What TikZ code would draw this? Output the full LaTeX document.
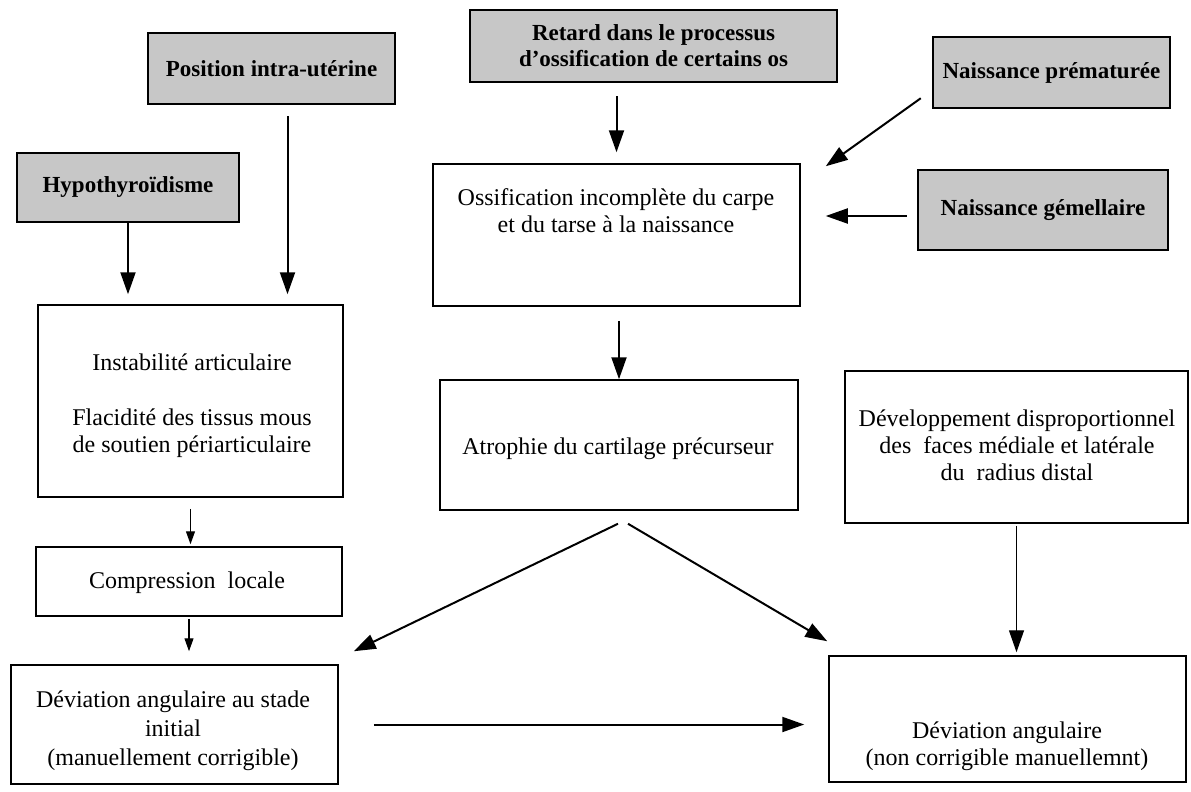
\documentclass[tikz,border=0pt]{standalone}
\usepackage{fontspec}
\setmainfont{Liberation Serif}
\usetikzlibrary{arrows.meta,calc}
\begin{document}
\begin{tikzpicture}[x=1pt,y=-1pt,
  graybox/.style={draw=black, line width=2.5pt, fill=black!22, inner sep=0pt, font=\fontsize{23}{26}\selectfont\bfseries, align=center},
  whitebox/.style={draw=black, line width=1.5pt, inner sep=0pt},
  txt/.style={font=\fontsize{24}{27}\selectfont, align=center, inner sep=0pt},
  arr/.style={line width=2pt, -{Triangle[length=22pt,width=15pt]}},
  thinarr/.style={line width=1.2pt, -{Triangle[length=13pt,width=9pt]}},
]
\useasboundingbox (0,0) rectangle (1191,792);
% gray source boxes
\node[graybox, minimum width=247pt, minimum height=71pt] (pos) at (271.5,68.5) {Position intra-utérine};
\node[graybox, minimum width=367pt, minimum height=72pt] (ret) at (653.5,46) {Retard dans le processus\\d'ossification de certains os};
\node[graybox, minimum width=237pt, minimum height=71pt] (prem) at (1051.5,72.5) {Naissance prématurée};
\node[graybox, minimum width=250pt, minimum height=80pt] (gem) at (1043,210) {Naissance gémellaire};
\node[graybox, minimum width=222pt, minimum height=69pt] (hypo) at (128,187.5) {Hypothyroïdisme};
% white boxes
\node[whitebox, minimum width=367pt, minimum height=142pt] (oss) at (616.5,235) {};
\node[txt] (osst) at (616,211) {Ossification incomplète du carpe\\et du tarse à la naissance};
\node[whitebox, minimum width=305pt, minimum height=192pt] (inst) at (190.5,401) {};
\node[txt] (inst1) at (192,362) {Instabilité articulaire};
\node[txt] (inst2) at (192,433) {Flacidité des tissus mous\\de soutien périarticulaire};
\node[whitebox, minimum width=358pt, minimum height=130pt] (atr) at (619,445) {};
\node[txt] (atrt) at (618,449) {Atrophie du cartilage précurseur};
\node[whitebox, minimum width=343pt, minimum height=152pt] (dev) at (1016.5,447) {};
\node[txt] (devt) at (1017,445) {Développement disproportionnel\\des\ \ faces médiale et latérale\\du\ \ radius distal};
\node[whitebox, minimum width=306pt, minimum height=69pt] (comp) at (189,581.5) {};
\node[txt] (compt) at (187,583) {Compression\ \ locale};
\node[whitebox, minimum width=327pt, minimum height=119pt] (devi) at (174.5,724.5) {};
\node[txt, font=\fontsize{24}{29}\selectfont] (devit) at (173,731) {Déviation angulaire au stade\\initial\\(manuellement corrigible)};
\node[whitebox, minimum width=357pt, minimum height=126pt] (devn) at (1007.5,719) {};
\node[txt] (devnt) at (1007,746) {Déviation angulaire\\(non corrigible manuellemnt)};
% connectors
\draw[arr, shorten >=10pt] (hypo.south) -- (hypo.south |- inst.north);
\draw[arr, shorten <=11pt, shorten >=10pt] ([xshift=16pt]pos.south) -- ([xshift=16pt]pos.south |- inst.north);
\draw[arr, shorten <=13pt, shorten >=11pt] (ret.south -| oss.north) -- (oss.north);
\draw[arr, shorten <=14pt] (oss.south -| atr.north) -- (atr.north);
\draw[arr] ($(prem.south west)+(-11,-11)$) -- ($(oss.north east)+(25,3)$);
\draw[arr, shorten <=10pt, shorten >=25pt] ([yshift=-6pt]gem.west) -- ([yshift=-6pt]gem.west -| oss.east);
\draw[thinarr, shorten <=11pt, shorten >=2pt] (inst.south) -- (inst.south |- comp.north);
\draw[thinarr, shorten <=2pt, shorten >=13pt] (comp.south) -- (comp.south |- devi.north);
\draw[arr] ($(atr.south)+(-1,13)$) -- ($(devi.north east)+(15,-13)$);
\draw[arr] ($(atr.south)+(9,13)$) -- ($(devn.north west)+(-1,-14)$);
\draw[arr, line width=1.3pt, shorten <=2pt, shorten >=3pt] (dev.south) -- (dev.south |- devn.north);
\draw[arr, shorten <=35pt, shorten >=24pt] (devi.east) -- (devi.east -| devn.west);
\end{tikzpicture}
\end{document}
